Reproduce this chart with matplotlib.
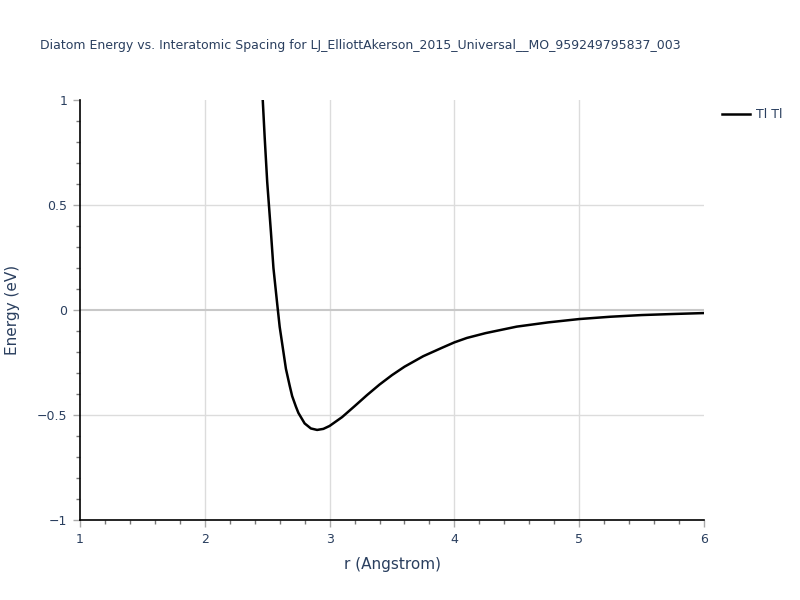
import matplotlib
matplotlib.use("Agg")
import matplotlib.pyplot as plt
import matplotlib.ticker as mticker

# values
r_vals = [2.46, 2.48, 2.50, 2.53, 2.55, 2.58, 2.60, 2.63, 2.65, 2.68, 2.70, 2.73,
          2.75, 2.78, 2.80, 2.85, 2.90, 2.95, 3.00, 3.10, 3.20, 3.30, 3.40, 3.50,
          3.60, 3.75, 3.90, 4.00, 4.10, 4.25, 4.50, 4.75, 5.00, 5.25, 5.50, 5.75, 6.00]
e_vals = [1.05, 0.82, 0.61, 0.37, 0.20, 0.03, -0.08, -0.20, -0.28, -0.36, -0.41, -0.46,
          -0.49, -0.52, -0.54, -0.564, -0.571, -0.566, -0.552, -0.51, -0.458, -0.405, -0.355, -0.31,
          -0.27, -0.22, -0.18, -0.154, -0.133, -0.11, -0.079, -0.059, -0.043, -0.032, -0.024, -0.019, -0.0145]
series_name = "Tl Tl"
title = "Diatom Energy vs. Interatomic Spacing for LJ_ElliottAkerson_2015_Universal__MO_959249795837_003"

txt = "#2a3f5f"
grid_c = "#dcdcdc"

fig = plt.figure(figsize=(8, 6), dpi=100)
ax = fig.add_axes([0.1, 0.1333, 0.78, 0.7])

ax.plot(r_vals, e_vals, color="black", lw=1.8, label=series_name, zorder=3,
        solid_joinstyle="round")

ax.set_xlim(1, 6)
ax.set_ylim(-1, 1)

ax.xaxis.set_major_locator(mticker.MultipleLocator(1))
ax.xaxis.set_minor_locator(mticker.MultipleLocator(0.2))
ax.yaxis.set_major_locator(mticker.MultipleLocator(0.5))
ax.yaxis.set_minor_locator(mticker.MultipleLocator(0.1))
ax.yaxis.set_major_formatter(mticker.FuncFormatter(
    lambda v, p: ("\u2212" if v < 0 else "") + ("%g" % abs(v))))

# inner grid lines only (plotly leaves none on the axis edges)
for gx in [2, 3, 4, 5]:
    ax.axvline(gx, color=grid_c, lw=1, zorder=0)
for gy in [0.5, -0.5]:
    ax.axhline(gy, color=grid_c, lw=1, zorder=0)
ax.axhline(0, color="#c8c8c8", lw=1.5, zorder=1)

for s in ["top", "right"]:
    ax.spines[s].set_visible(False)
for s in ["left", "bottom"]:
    ax.spines[s].set_color("black")
    ax.spines[s].set_linewidth(1.2)
    ax.spines[s].set_zorder(4)

ax.tick_params(which="major", length=5, width=1, color="#aaaaaa",
               labelsize=9, labelcolor=txt, pad=4)
ax.tick_params(which="minor", length=3, width=1, color="#777777")

ax.set_xlabel("r (Angstrom)", fontsize=11, color=txt, labelpad=8)
ax.set_ylabel("Energy (eV)", fontsize=11, color=txt, labelpad=12)

fig.text(0.05, 0.925, title, fontsize=9, color=txt, ha="left", va="center")

ax.legend(loc="upper left", bbox_to_anchor=(1.021, 0.993), frameon=False,
          fontsize=9, handlelength=2.2, labelcolor=txt,
          borderaxespad=0, handletextpad=0.5)

fig.savefig("out.png", dpi=100)
